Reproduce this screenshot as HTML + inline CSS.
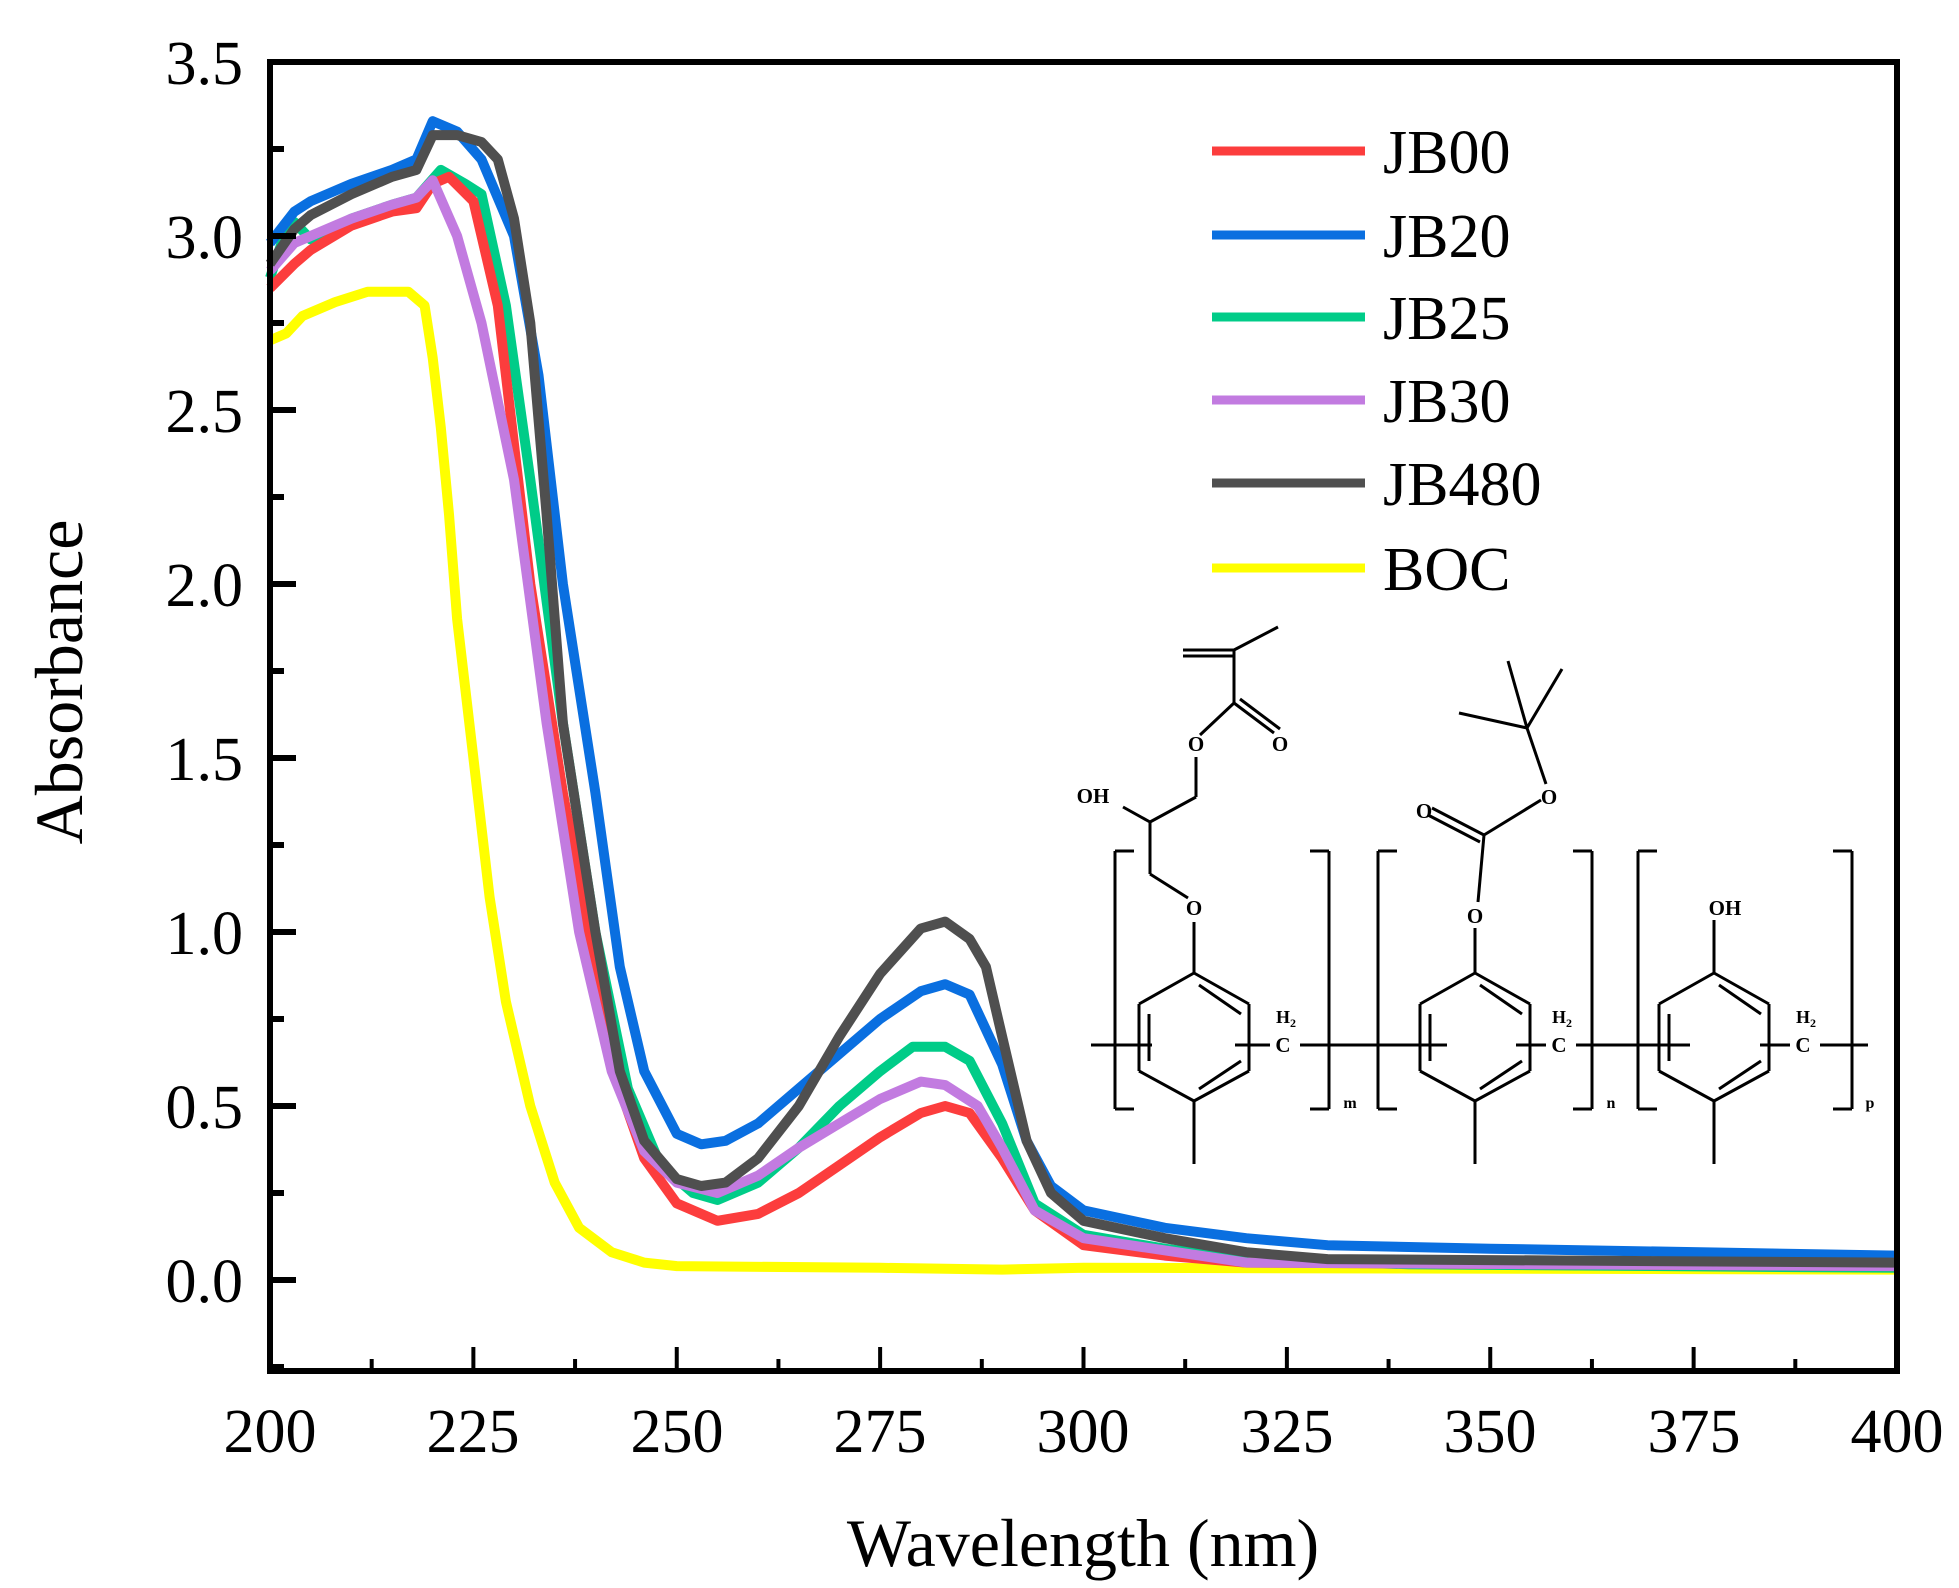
<!DOCTYPE html>
<html><head><meta charset="utf-8">
<style>
html,body{margin:0;padding:0;background:#fff;}
svg{display:block;}
text{font-family:"Liberation Serif",serif;fill:#000;}
</style></head>
<body>
<svg id="s" width="1959" height="1588" viewBox="0 0 1959 1588" xmlns="http://www.w3.org/2000/svg">
<rect width="1959" height="1588" fill="#fff"/>
<g id="curves" fill="none" stroke-width="10" stroke-linejoin="round"></g>
<g id="ticks" stroke="#000"></g>
<rect x="270" y="62" width="1627" height="1309" fill="none" stroke="#000" stroke-width="6"/>
<g font-size="62" text-anchor="end">
<text x="243" y="1302">0.0</text><text x="243" y="1128">0.5</text><text x="243" y="954">1.0</text>
<text x="243" y="780">1.5</text><text x="243" y="606">2.0</text><text x="243" y="432">2.5</text>
<text x="243" y="258">3.0</text><text x="243" y="84">3.5</text>
</g>
<g font-size="62" text-anchor="middle">
<text x="270" y="1452">200</text><text x="473" y="1452">225</text><text x="677" y="1452">250</text>
<text x="880" y="1452">275</text><text x="1083" y="1452">300</text><text x="1287" y="1452">325</text>
<text x="1490" y="1452">350</text><text x="1694" y="1452">375</text><text x="1897" y="1452">400</text>
</g>
<text x="1083" y="1566" font-size="68" text-anchor="middle">Wavelength (nm)</text>
<text transform="translate(82,682) rotate(-90)" font-size="68" text-anchor="middle">Absorbance</text>
<g stroke-width="9">
<line x1="1212" y1="151" x2="1365" y2="151" stroke="#fc3d3d"/>
<line x1="1212" y1="235" x2="1365" y2="235" stroke="#0a6fe0"/>
<line x1="1212" y1="317" x2="1365" y2="317" stroke="#00cc88"/>
<line x1="1212" y1="400" x2="1365" y2="400" stroke="#c27be0"/>
<line x1="1212" y1="483" x2="1365" y2="483" stroke="#4f4f4f"/>
<line x1="1212" y1="568" x2="1365" y2="568" stroke="#ffff00"/>
</g>
<g font-size="62">
<text x="1383" y="173">JB00</text><text x="1383" y="257">JB20</text><text x="1383" y="339">JB25</text>
<text x="1383" y="422">JB30</text><text x="1383" y="505">JB480</text><text x="1383" y="590">BOC</text>
</g>
<g id="mol" stroke="#000" stroke-width="3" fill="none"></g>
<g font-size="21" text-anchor="middle" font-weight="bold">
<text x="1194" y="915">O</text>
<text x="1093" y="803">OH</text>
<text x="1196" y="751">O</text>
<text x="1280" y="751">O</text>
<text x="1475" y="923">O</text>
<text x="1424" y="818">O</text>
<text x="1549" y="804">O</text>
<text x="1725" y="915">OH</text>
<text x="1283" y="1052">C</text><text x="1286" y="1023" font-size="18">H<tspan font-size="12" dy="4">2</tspan></text>
<text x="1559" y="1052">C</text><text x="1562" y="1023" font-size="18">H<tspan font-size="12" dy="4">2</tspan></text>
<text x="1803" y="1052">C</text><text x="1806" y="1023" font-size="18">H<tspan font-size="12" dy="4">2</tspan></text>
<text x="1350" y="1108" font-size="16">m</text>
<text x="1611" y="1108" font-size="16">n</text>
<text x="1870" y="1108" font-size="16">p</text>
</g>
</svg>
<script>
var NS="http://www.w3.org/2000/svg";
function X(n){return 270+(n-200)*8.135;}
function Y(a){return 1280-a*348;}
function el(p,tag,attrs){var e=document.createElementNS(NS,tag);for(var k in attrs)e.setAttribute(k,attrs[k]);p.appendChild(e);return e;}
var series=[
["#ffff00",[200,2.7,202,2.72,204,2.77,208,2.81,212,2.84,217,2.84,219,2.8,220,2.65,221,2.45,222,2.2,223,1.9,225,1.5,227,1.1,229,0.8,232,0.5,235,0.28,238,0.15,242,0.08,246,0.05,250,0.04,275,0.035,290,0.03,300,0.035,400,0.03]],
["#00cc88",[200,2.88,202,3.02,203,3.04,205,2.99,210,3.05,215,3.09,218,3.11,221,3.19,224,3.15,226,3.12,229,2.8,232,2.3,236,1.6,240,1.0,244,0.55,248,0.33,252,0.25,255,0.23,260,0.28,265,0.38,270,0.5,275,0.6,279,0.67,283,0.67,286,0.63,290,0.45,294,0.22,300,0.13,310,0.09,320,0.06,340,0.045,400,0.035]],
["#fc3d3d",[200,2.85,203,2.92,205,2.96,210,3.03,215,3.07,218,3.08,220,3.15,222,3.17,225,3.1,228,2.8,232,2.0,236,1.4,240,0.9,243,0.55,246,0.35,250,0.22,255,0.17,260,0.19,265,0.25,270,0.33,275,0.41,280,0.48,283,0.5,286,0.48,290,0.35,294,0.2,300,0.1,310,0.07,320,0.05,400,0.04]],
["#c27be0",[200,2.9,203,2.98,205,3.0,210,3.05,215,3.09,218,3.11,220,3.16,223,3.0,226,2.75,230,2.3,234,1.6,238,1.0,242,0.6,246,0.37,250,0.28,255,0.25,260,0.3,265,0.38,270,0.45,275,0.52,280,0.57,283,0.56,287,0.5,290,0.38,294,0.2,300,0.12,320,0.05,400,0.04]],
["#0a6fe0",[200,2.98,203,3.07,205,3.1,210,3.15,215,3.19,218,3.22,220,3.33,223,3.3,226,3.22,230,3.0,233,2.6,236,2.0,240,1.4,243,0.9,246,0.6,250,0.42,253,0.39,256,0.4,260,0.45,265,0.55,270,0.65,275,0.75,280,0.83,283,0.85,286,0.82,290,0.62,293,0.4,296,0.27,300,0.2,310,0.15,320,0.12,330,0.1,350,0.09,400,0.07]],
["#4f4f4f",[200,2.92,203,3.02,205,3.06,210,3.12,215,3.17,218,3.19,220,3.29,223,3.29,226,3.27,228,3.22,230,3.05,232,2.75,234,2.2,236,1.6,240,1.0,243,0.6,246,0.4,250,0.29,253,0.27,256,0.28,260,0.35,265,0.5,270,0.7,275,0.88,280,1.01,283,1.03,286,0.98,288,0.9,290,0.7,293,0.4,296,0.25,300,0.17,310,0.12,320,0.08,330,0.06,400,0.05]]
];
var g=document.getElementById("curves");
series.forEach(function(s){var d=s[1],pts=[];for(var i=0;i<d.length;i+=2)pts.push(X(d[i]).toFixed(1)+","+Y(d[i+1]).toFixed(1));
el(g,"polyline",{points:pts.join(" "),stroke:s[0]});});
var t=document.getElementById("ticks");
for(var n=200;n<=400;n+=12.5){var maj=(n%25==0);el(t,"line",{x1:X(n),x2:X(n),y1:1371,y2:1371-(maj?24:12),"stroke-width":4});}
for(var a=-0.25;a<=3.5;a+=0.25){var maj=(Math.abs(a*2-Math.round(a*2))<1e-6);el(t,"line",{x1:270,x2:270+(maj?26:14),y1:Y(a),y2:Y(a),"stroke-width":6});}
var m=document.getElementById("mol");
function L(x1,y1,x2,y2){el(m,"line",{x1:x1,y1:y1,x2:x2,y2:y2});}
function ring(cx){var t=973,u=1004,l=1071,b=1101,w=55;
L(cx,t,cx+w,u);L(cx+w,u,cx+w,l);L(cx+w,l,cx,b);L(cx,b,cx-w,l);L(cx-w,l,cx-w,u);L(cx-w,u,cx,t);
L(cx+5,t+12,cx+w-8,u+10);L(cx-w+10,u+10,cx-w+10,l-10);L(cx+w-8,l-10,cx+5,b-12);
L(cx,b,cx,1164);}
function bracket(x,dir){L(x,851,x,1109);L(x,851,x+dir*19,851);L(x,1109,x+dir*19,1109);}
[1194,1475,1714].forEach(ring);
bracket(1115,1);bracket(1329,-1);bracket(1378,1);bracket(1592,-1);bracket(1638,1);bracket(1852,-1);
L(1091,1045,1152,1045);L(1235,1045,1270,1045);L(1300,1045,1447,1045);L(1516,1045,1546,1045);L(1576,1045,1690,1045);L(1760,1045,1790,1045);L(1820,1045,1868,1045);
L(1194,973,1194,922);L(1188,898,1150,874);L(1150,874,1150,822);L(1150,822,1123,807);L(1150,822,1196,797);L(1196,797,1196,757);L(1200,735,1234,703);
L(1234,703,1274,733);L(1240,699,1280,729);L(1234,703,1234,650);L(1234,650,1183,650);L(1234,656,1183,656);L(1234,650,1278,627);
L(1475,973,1475,928);L(1478,902,1484,835);L(1484,835,1432,808);L(1480,842,1428,815);L(1484,835,1541,800);L(1546,784,1527,728);L(1527,728,1508,661);L(1527,728,1562,669);L(1527,728,1459,713);
L(1714,973,1714,920);
</script>
</body></html>
